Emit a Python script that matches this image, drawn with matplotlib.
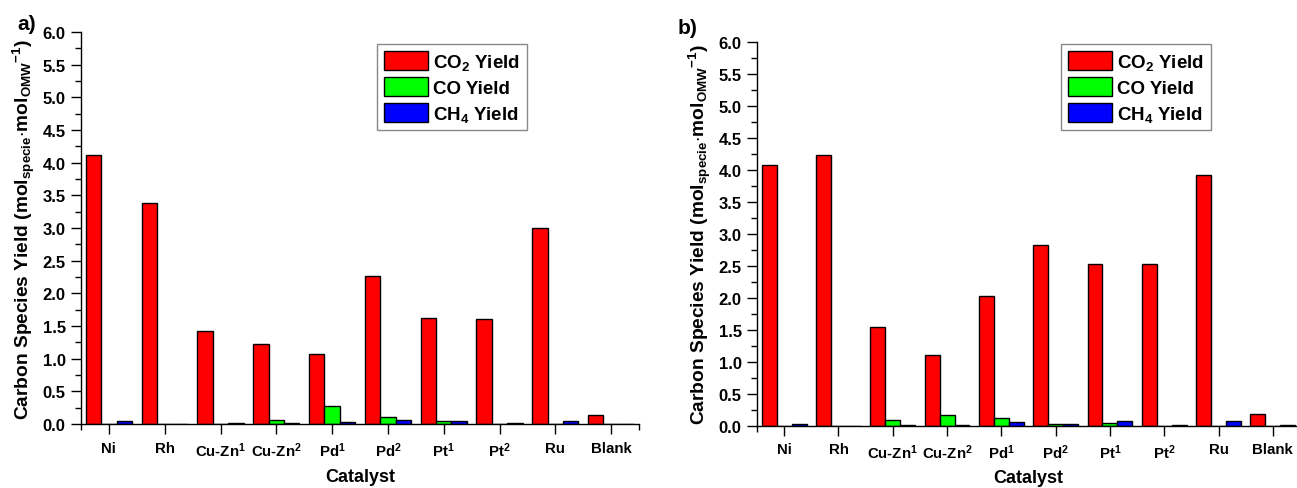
import matplotlib
matplotlib.use("Agg")
import matplotlib.pyplot as plt
import numpy as np
from matplotlib.ticker import MultipleLocator, FixedLocator

plt.rcParams['font.family'] = ['Liberation Sans', 'DejaVu Sans']
plt.rcParams['font.weight'] = 'bold'
plt.rcParams['mathtext.fontset'] = 'custom'
plt.rcParams['mathtext.rm'] = 'Liberation Sans:bold'
plt.rcParams['mathtext.it'] = 'Liberation Sans:bold'
plt.rcParams['mathtext.bf'] = 'Liberation Sans:bold'
plt.rcParams['mathtext.default'] = 'rm'

catalysts = ["Ni", "Rh", "Cu-Zn$^1$", "Cu-Zn$^2$", "Pd$^1$", "Pd$^2$",
             "Pt$^1$", "Pt$^2$", "Ru", "Blank"]

# Panel a
co2_a = [4.12, 3.38, 1.43, 1.22, 1.07, 2.26, 1.62, 1.60, 3.00, 0.14]
co_a  = [0.00, 0.00, 0.00, 0.06, 0.28, 0.11, 0.045, 0.00, 0.00, 0.00]
ch4_a = [0.04, 0.00, 0.02, 0.015, 0.025, 0.06, 0.05, 0.01, 0.04, 0.005]

# Panel b
co2_b = [4.08, 4.23, 1.55, 1.10, 2.02, 2.83, 2.53, 2.53, 3.91, 0.18]
co_b  = [0.00, 0.00, 0.095, 0.17, 0.125, 0.03, 0.04, 0.00, 0.00, 0.00]
ch4_b = [0.03, 0.00, 0.01, 0.005, 0.06, 0.03, 0.075, 0.015, 0.07, 0.005]

series_labels = ["CO$_2$ Yield", "CO Yield", "CH$_4$ Yield"]
series_colors = ["#ff0000", "#00ff00", "#0000ff"]

fig = plt.figure(figsize=(12.97, 4.89), dpi=100)

ylabel = r"Carbon Species Yield (mol$_{specie}$$\cdot$mol$_{OMW}$$^{-1}$)"


def draw_panel(ax, series, legend_anchor):
    x = np.arange(len(catalysts))
    w = 0.275
    offsets = [-w, 0.0, w]
    handles = []
    for vals, off, col, lab in zip(series, offsets, series_colors, series_labels):
        h = ax.bar(x + off, vals, width=w, color=col, edgecolor="black",
                   linewidth=1.0, label=lab, zorder=2)
        handles.append(h)
    ax.set_xlim(-0.5, len(catalysts) - 0.5)
    ax.set_ylim(0, 6.0)
    yt = np.arange(0, 6.01, 0.5)
    ax.set_yticks(yt)
    ax.set_yticklabels([f"{v:.1f}" for v in yt])
    ax.yaxis.set_minor_locator(MultipleLocator(0.25))
    ax.set_xticks(x)
    ax.set_xticklabels(catalysts)
    ax.xaxis.set_minor_locator(FixedLocator([-0.5, len(catalysts) - 0.5]))
    ax.tick_params(axis="both", which="major", direction="out", length=7,
                   width=1.0)
    ax.tick_params(axis="both", which="minor", direction="out", length=4,
                   width=1.0)
    ax.tick_params(axis="x", which="major", labelsize=10.8, pad=5)
    ax.tick_params(axis="y", which="major", labelsize=12, pad=4)
    for lab in ax.get_xticklabels() + ax.get_yticklabels():
        lab.set_fontweight("bold")
    ax.spines["top"].set_visible(False)
    ax.spines["right"].set_visible(False)
    ax.spines["left"].set_linewidth(1.0)
    ax.spines["bottom"].set_linewidth(1.0)
    ax.set_xlabel("Catalyst", fontsize=13, fontweight="bold", labelpad=6)
    ax.set_ylabel(ylabel, fontsize=13.8, fontweight="bold", labelpad=4)
    leg = ax.legend(handles=handles, loc="upper left",
                    bbox_to_anchor=legend_anchor, borderaxespad=0.0,
                    handlelength=2.35, handleheight=1.2, handletextpad=0.3,
                    labelspacing=0.3, borderpad=0.35, fancybox=False,
                    framealpha=1.0, edgecolor="#888888",
                    prop={"weight": "bold", "size": 13.5})
    leg.get_frame().set_linewidth(1.0)
    return ax


ax_a = fig.add_axes([81 / 1297, 1 - 425 / 489, 558 / 1297, 392 / 489])
draw_panel(ax_a, [co2_a, co_a, ch4_a], (0.5305, 0.969))

ax_b = fig.add_axes([757 / 1297, 1 - 426.7 / 489, 543 / 1297, 384 / 489])
draw_panel(ax_b, [co2_b, co_b, ch4_b], (0.56, 0.994))

fig.text(27 / 1297, 1 - 24 / 489, "a)", fontsize=15, fontweight="bold",
         va="center", ha="center")
fig.text(688 / 1297, 1 - 28 / 489, "b)", fontsize=15, fontweight="bold",
         va="center", ha="center")

fig.savefig("out.png", dpi=100)
